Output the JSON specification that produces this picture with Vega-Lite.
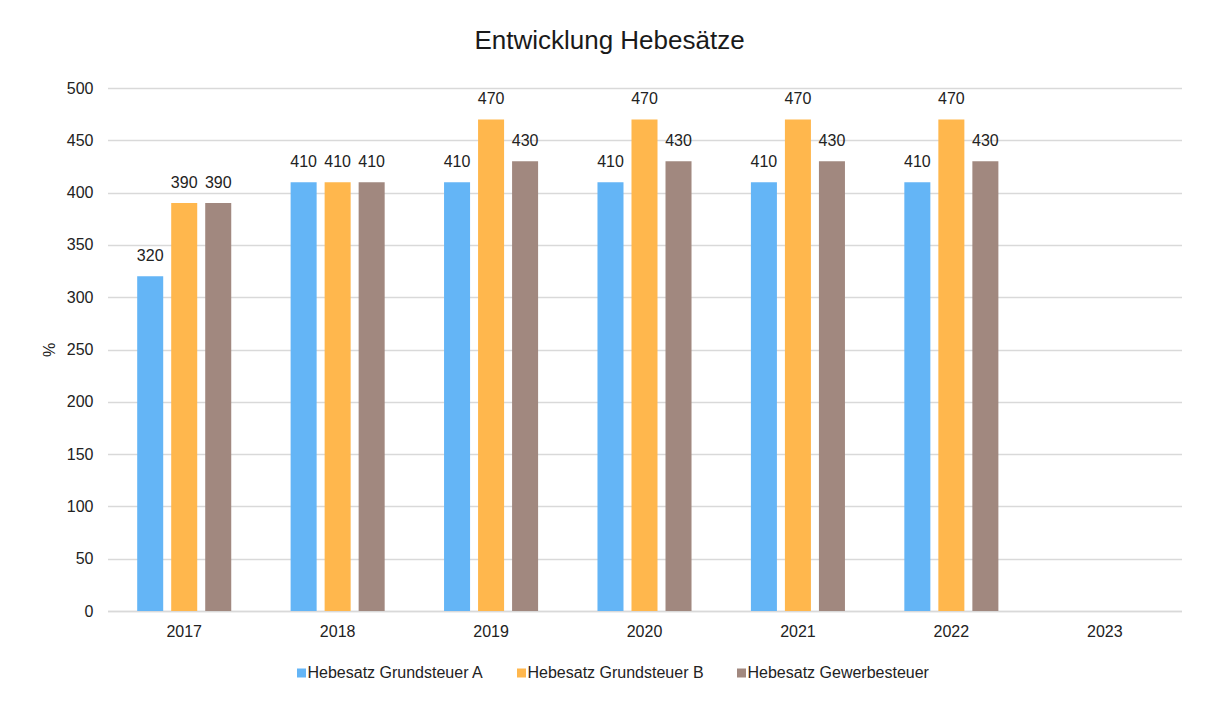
{
  "$schema": "https://vega.github.io/schema/vega-lite/v6.json",
  "width": 1074,
  "height": 523,
  "autosize": {"type": "none"},
  "padding": {"left": 107.5, "top": 88, "right": 23.5, "bottom": 91},
  "background": "white",
  "title": {
    "text": "Entwicklung Hebesätze",
    "anchor": "middle",
    "frame": "group",
    "dx": -35,
    "offset": 26,
    "fontSize": 26,
    "font": "Liberation Sans",
    "fontWeight": "normal",
    "color": "#1a1a1a"
  },
  "data": {
    "values": [
      {"Jahr": "2017", "Serie": "Hebesatz Grundsteuer A", "Wert": 320},
      {"Jahr": "2017", "Serie": "Hebesatz Grundsteuer B", "Wert": 390},
      {"Jahr": "2017", "Serie": "Hebesatz Gewerbesteuer", "Wert": 390},
      {"Jahr": "2018", "Serie": "Hebesatz Grundsteuer A", "Wert": 410},
      {"Jahr": "2018", "Serie": "Hebesatz Grundsteuer B", "Wert": 410},
      {"Jahr": "2018", "Serie": "Hebesatz Gewerbesteuer", "Wert": 410},
      {"Jahr": "2019", "Serie": "Hebesatz Grundsteuer A", "Wert": 410},
      {"Jahr": "2019", "Serie": "Hebesatz Grundsteuer B", "Wert": 470},
      {"Jahr": "2019", "Serie": "Hebesatz Gewerbesteuer", "Wert": 430},
      {"Jahr": "2020", "Serie": "Hebesatz Grundsteuer A", "Wert": 410},
      {"Jahr": "2020", "Serie": "Hebesatz Grundsteuer B", "Wert": 470},
      {"Jahr": "2020", "Serie": "Hebesatz Gewerbesteuer", "Wert": 430},
      {"Jahr": "2021", "Serie": "Hebesatz Grundsteuer A", "Wert": 410},
      {"Jahr": "2021", "Serie": "Hebesatz Grundsteuer B", "Wert": 470},
      {"Jahr": "2021", "Serie": "Hebesatz Gewerbesteuer", "Wert": 430},
      {"Jahr": "2022", "Serie": "Hebesatz Grundsteuer A", "Wert": 410},
      {"Jahr": "2022", "Serie": "Hebesatz Grundsteuer B", "Wert": 470},
      {"Jahr": "2022", "Serie": "Hebesatz Gewerbesteuer", "Wert": 430}
    ]
  },
  "encoding": {
    "x": {
      "field": "Jahr",
      "type": "nominal",
      "scale": {
        "domain": ["2017", "2018", "2019", "2020", "2021", "2022", "2023"],
        "paddingInner": 0.387,
        "paddingOuter": 0.1935
      },
      "axis": {
        "title": null,
        "labelAngle": 0,
        "labelFontSize": 16,
        "labelFont": "Liberation Sans",
        "labelColor": "#222222",
        "labelPadding": 12,
        "ticks": false,
        "domainColor": "#d9d9d9",
        "domainWidth": 1.5,
        "grid": false
      }
    },
    "xOffset": {
      "field": "Serie",
      "type": "nominal",
      "sort": ["Hebesatz Grundsteuer A", "Hebesatz Grundsteuer B", "Hebesatz Gewerbesteuer"],
      "scale": {"paddingInner": 0.235, "paddingOuter": 0}
    },
    "y": {
      "field": "Wert",
      "type": "quantitative",
      "scale": {"domain": [0, 500], "nice": false},
      "axis": {
        "title": "%",
        "titleAngle": -90,
        "titleX": -58,
        "titleY": 261.5,
        "titleAlign": "center",
        "titleBaseline": "middle",
        "titleFontSize": 16,
        "titleFont": "Liberation Sans",
        "titleFontWeight": "normal",
        "titleColor": "#222222",
        "values": [0, 50, 100, 150, 200, 250, 300, 350, 400, 450, 500],
        "labelFontSize": 16,
        "labelFont": "Liberation Sans",
        "labelColor": "#222222",
        "labelPadding": 14.5,
        "ticks": false,
        "domain": false,
        "gridColor": "#d9d9d9",
        "gridWidth": 1.5
      }
    }
  },
  "layer": [
    {
      "mark": {"type": "bar"},
      "encoding": {
        "color": {
          "field": "Serie",
          "type": "nominal",
          "sort": ["Hebesatz Grundsteuer A", "Hebesatz Grundsteuer B", "Hebesatz Gewerbesteuer"],
          "scale": {
            "domain": ["Hebesatz Grundsteuer A", "Hebesatz Grundsteuer B", "Hebesatz Gewerbesteuer"],
            "range": ["#64B5F6", "#FFB74D", "#A1887F"]
          },
          "legend": {
            "title": null,
            "orient": "none",
            "direction": "horizontal",
            "legendX": 186,
            "legendY": 577,
            "symbolType": "square",
            "symbolSize": 81,
            "symbolStrokeWidth": 0,
            "labelOffset": -2,
            "labelFontSize": 16,
            "labelFont": "Liberation Sans",
            "labelColor": "#222222",
            "labelLimit": 0,
            "columnPadding": 29
          }
        }
      }
    },
    {
      "mark": {
        "type": "text",
        "baseline": "alphabetic",
        "dy": -15,
        "fontSize": 16,
        "font": "Liberation Sans",
        "color": "#222222"
      },
      "encoding": {
        "text": {"field": "Wert", "type": "quantitative"}
      }
    }
  ],
  "config": {
    "view": {"stroke": null}
  }
}
